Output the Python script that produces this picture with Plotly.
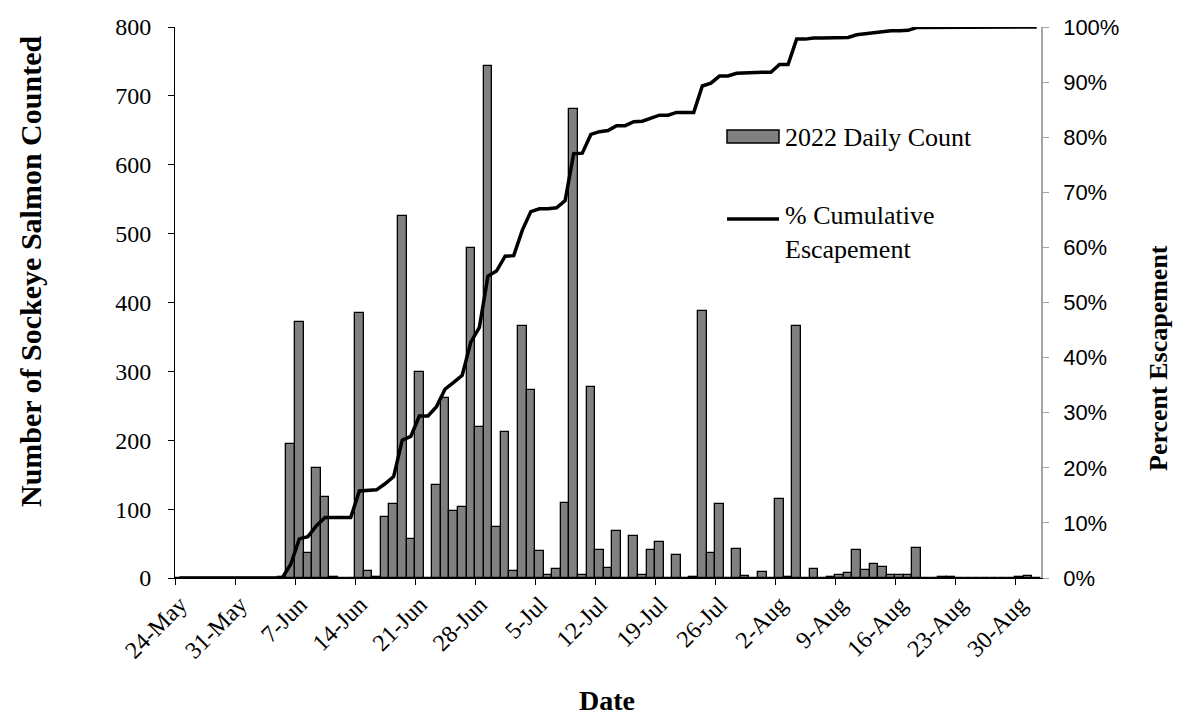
import pandas as pd
import plotly.graph_objects as go

# Daily sockeye counts, one value per day starting 24-May-2022
start_date = "2022-05-24"
daily_count = [
    0, 0, 0, 0, 0, 0, 0, 0, 0, 0, 0, 0, 2, 195, 371, 36, 160, 117, 2, 0,
    0, 385, 10, 2, 88, 108, 525, 57, 299, 0, 135, 262, 97, 103, 479, 219, 744, 74, 212, 10,
    366, 273, 39, 4, 13, 109, 681, 4, 277, 41, 15, 68, 0, 61, 5, 40, 52, 0, 34, 0,
    2, 387, 36, 108, 0, 42, 3, 0, 9, 0, 115, 2, 366, 0, 13, 0, 1, 5, 7, 40,
    12, 20, 16, 4, 4, 5, 43, 0, 0, 1, 1, 0, 0, 0, 0, 0, 0, 0, 1, 3,
    0,
]

# Cumulative escapement (percent of season total), same days
cumulative_pct = [
    0.0, 0.0, 0.0, 0.0, 0.0, 0.0, 0.0, 0.0, 0.0, 0.0, 0.0, 0.0, 0.0, 2.5, 7.1, 7.5, 9.5, 11.0, 11.0, 11.0,
    11.0, 15.8, 15.9, 16.0, 17.1, 18.4, 25.0, 25.7, 29.4, 29.4, 31.1, 34.3, 35.5, 36.8, 42.8, 45.5, 54.8, 55.7, 58.4, 58.5,
    63.1, 66.5, 67.0, 67.0, 67.2, 68.5, 77.0, 77.1, 80.5, 81.0, 81.2, 82.1, 82.1, 82.8, 82.9, 83.4, 84.0, 84.0, 84.5, 84.5,
    84.5, 89.3, 89.8, 91.1, 91.1, 91.6, 91.7, 91.7, 91.8, 91.8, 93.2, 93.2, 97.8, 97.8, 98.0, 98.0, 98.0, 98.0, 98.1, 98.6,
    98.8, 99.0, 99.2, 99.3, 99.3, 99.4, 99.9, 99.9, 99.9, 99.9, 99.9, 99.9, 99.9, 99.9, 99.9, 99.9, 99.9, 99.9, 100.0, 100.0,
    100.0,
]

dates = pd.date_range(start_date, periods=len(daily_count), freq="D")
day_ms = 86400000

serif = "Liberation Serif, Times New Roman, serif"
sans = "Liberation Sans, Arial, sans-serif"

fig = go.Figure()

fig.add_trace(go.Bar(
    x=dates, y=daily_count, name="2022 Daily Count",
    xperiod=day_ms, xperiodalignment="middle",
    marker=dict(color="#808080", line=dict(color="black", width=1.3)),
    width=day_ms, showlegend=False,
))

fig.add_trace(go.Scatter(
    x=dates, y=[v / 100 for v in cumulative_pct], name="% Cumulative Escapement",
    xperiod=day_ms, xperiodalignment="middle",
    mode="lines", line=dict(color="black", width=3.5),
    yaxis="y2", cliponaxis=False, showlegend=False,
))

fig.update_layout(
    width=1177, height=726,
    margin=dict(l=175, r=136, t=27, b=148),
    paper_bgcolor="white", plot_bgcolor="white",
    bargap=0,
    xaxis=dict(
        type="date",
        range=["2022-05-24", "2022-09-02"],
        tick0="2022-05-24", dtick=7 * day_ms,
        tickformat="%-d-%b", tickangle=-45,
        ticks="outside", ticklen=6, tickcolor="black",
        showline=True, linecolor="black", linewidth=1,
        showgrid=False, zeroline=False,
        ticklabelstandoff=-4, ticklabelshift=5,
        tickfont=dict(family=serif, size=24, color="black"),
    ),
    yaxis=dict(
        range=[0, 800], dtick=100,
        ticks="outside", ticklen=6, tickcolor="black",
        showline=True, linecolor="black", linewidth=1,
        showgrid=False, zeroline=False,
        ticklabelstandoff=12,
        tickfont=dict(family=serif, size=24, color="black"),
    ),
    yaxis2=dict(
        overlaying="y", side="right",
        range=[0, 1], dtick=0.1, tickformat=".0%",
        ticks="outside", ticklen=6, tickcolor="#a6a6a6",
        showline=True, linecolor="#a6a6a6", linewidth=1.5,
        showgrid=False, zeroline=False,
        ticklabelstandoff=10,
        tickfont=dict(family=sans, size=22, color="black"),
    ),
    shapes=[
        # legend key: bar swatch
        dict(type="rect", xref="paper", yref="paper",
             x0=(727 - 175) / 866, x1=(779 - 175) / 866,
             y0=(578 - 143) / 551, y1=(578 - 130) / 551,
             fillcolor="#808080", line=dict(color="black", width=1.5)),
        # legend key: line sample
        dict(type="line", xref="paper", yref="paper",
             x0=(727 - 175) / 866, x1=(779 - 175) / 866,
             y0=(578 - 219) / 551, y1=(578 - 219) / 551,
             line=dict(color="black", width=3.5)),
    ],
    annotations=[
        dict(text="2022 Daily Count", xref="paper", yref="paper",
             x=(783 - 175) / 866, y=(578 - 137) / 551,
             xanchor="left", yanchor="middle", showarrow=False,
             font=dict(family=serif, size=26, color="black")),
        dict(text="% Cumulative<br>Escapement", xref="paper", yref="paper",
             x=(783 - 175) / 866, y=(578 - 233) / 551,
             xanchor="left", yanchor="middle", showarrow=False, align="left",
             font=dict(family=serif, size=26, color="black")),
        dict(text="<b>Number of Sockeye Salmon Counted</b>", xref="paper", yref="paper",
             x=(30 - 175) / 866, y=(578 - 272) / 551, textangle=-90,
             xanchor="center", yanchor="middle", showarrow=False,
             font=dict(family=serif, size=30, color="black")),
        dict(text="<b>Percent Escapement</b>", xref="paper", yref="paper",
             x=(1158 - 175) / 866, y=(578 - 358) / 551, textangle=-90,
             xanchor="center", yanchor="middle", showarrow=False,
             font=dict(family=serif, size=26, color="black")),
        dict(text="<b>Date</b>", xref="paper", yref="paper",
             x=(607 - 175) / 866, y=(578 - 700) / 551,
             xanchor="center", yanchor="middle", showarrow=False,
             font=dict(family=serif, size=28, color="black")),
    ],
)

fig.write_html("out.html")
